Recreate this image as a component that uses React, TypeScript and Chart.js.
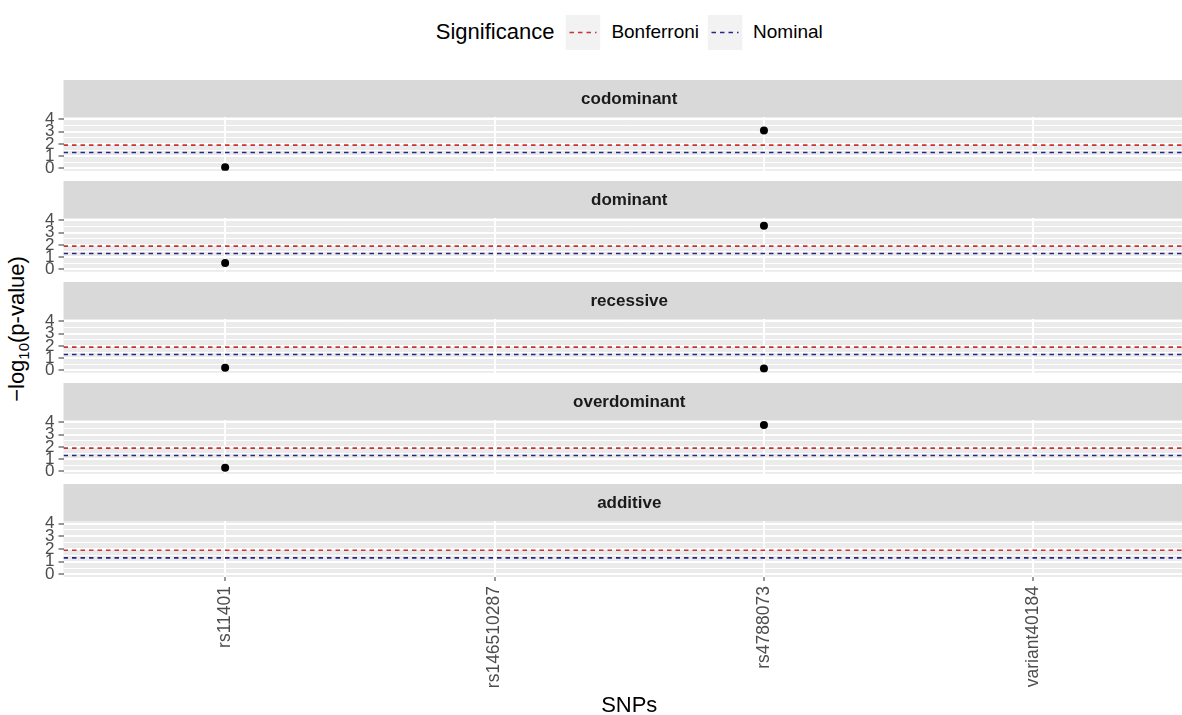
import React, { useEffect, useRef } from "react";
import { Chart, registerables } from "chart.js";

Chart.register(...registerables);

// ---- data ----
const snps = ["rs11401", "rs146510287", "rs4788073", "variant40184"];
const models = ["codominant", "dominant", "recessive", "overdominant", "additive"];

// -log10(p-value) per SNP for each genetic model (null = not tested)
const codominantP: (number | null)[] = [0.1, null, 3.1, null];
const dominantP: (number | null)[] = [0.51, null, 3.56, null];
const recessiveP: (number | null)[] = [0.21, null, 0.15, null];
const overdominantP: (number | null)[] = [0.3, null, 3.8, null];
const additiveP: (number | null)[] = [null, null, null, null];
const modelValues = [codominantP, dominantP, recessiveP, overdominantP, additiveP];

const yTickValues = [0, 1, 2, 3, 4];
const bonferroniLevel = 1.903; // -log10(0.05 / 4)
const nominalLevel = 1.301; // -log10(0.05)

// ---- layout / style ----
const PAGE_W = 1182;
const PAGE_H = 715;
const CANVAS_W = 1220;
const AREA_LEFT = 63.5;
const AREA_RIGHT = 1195;
const STRIP_TOP0 = 79.5;
const BLOCK = 101.2;
const STRIP_H = 37;
const PANEL_H = 56;
const X_MIN = -0.6;
const X_MAX = 3.6;
const Y_MIN = -0.2;
const Y_MAX = 4.2;

const FONT = "'Liberation Sans', Arial, Helvetica, sans-serif";
const PANEL_BG = "#EBEBEB";
const STRIP_BG = "#D9D9D9";
const BONF_COLOR = "#c83333";
const NOM_COLOR = "#25258a";
const TICK_TEXT = "#4D4D4D";

const facetBackground = {
  id: "facetBackground",
  beforeDraw(chart: any, _args: any, opts: any) {
    const { ctx, chartArea } = chart;
    const { left, right, top, bottom } = chartArea;
    ctx.save();
    ctx.fillStyle = PANEL_BG;
    ctx.fillRect(left, top, right - left, bottom - top);
    ctx.fillStyle = STRIP_BG;
    ctx.fillRect(left, top - STRIP_H, right - left, STRIP_H);
    ctx.fillStyle = "#1A1A1A";
    ctx.font = `bold 17px ${FONT}`;
    ctx.textAlign = "center";
    ctx.textBaseline = "middle";
    ctx.fillText(opts.label, (left + right) / 2, top - STRIP_H / 2 + 1);
    ctx.restore();
  },
};

function Panel({ index }: { index: number }) {
  const ref = useRef<HTMLCanvasElement>(null);
  const isLast = index === models.length - 1;
  const top = STRIP_TOP0 + BLOCK * index;
  const height = Math.round(isLast ? PAGE_H - top : STRIP_H + PANEL_H + 12);

  useEffect(() => {
    if (!ref.current) return;
    const values = modelValues[index];
    const points = values
      .map((v, i) => (v === null ? null : { x: i, y: v }))
      .filter((p) => p !== null) as { x: number; y: number }[];

    const minorAndMajor: number[] = [];
    for (let v = yTickValues[0]; v <= yTickValues[yTickValues.length - 1] + 1e-9; v += 0.5) {
      minorAndMajor.push(v);
    }
    const isMajor = (v: number) => yTickValues.includes(v);

    const chart = new Chart(ref.current, {
      type: "scatter",
      data: {
        datasets: [
          {
            type: "line",
            label: "Bonferroni",
            data: [
              { x: X_MIN, y: bonferroniLevel },
              { x: X_MAX, y: bonferroniLevel },
            ],
            borderColor: BONF_COLOR,
            borderWidth: 1.6,
            borderDash: [4.5, 4],
            pointRadius: 0,
            order: 2,
          },
          {
            type: "line",
            label: "Nominal",
            data: [
              { x: X_MIN, y: nominalLevel },
              { x: X_MAX, y: nominalLevel },
            ],
            borderColor: NOM_COLOR,
            borderWidth: 1.6,
            borderDash: [4.5, 4],
            pointRadius: 0,
            order: 1,
          },
          {
            type: "scatter",
            label: models[index],
            data: points,
            backgroundColor: "#000000",
            borderWidth: 0,
            pointRadius: 4,
            order: 0,
          },
        ],
      } as any,
      options: {
        responsive: false,
        animation: false,
        events: [],
        layout: {
          padding: { top: STRIP_H, left: 0, right: CANVAS_W - AREA_RIGHT, bottom: isLast ? 0 : 12 },
        },
        plugins: {
          legend: { display: false },
          tooltip: { enabled: false },
          facetBackground: { label: models[index] },
        } as any,
        scales: {
          x: {
            type: "linear",
            min: X_MIN,
            max: X_MAX,
            afterBuildTicks: (s: any) => {
              s.ticks = snps.map((_, i) => ({ value: i }));
            },
            afterFit: (s: any) => {
              s.height = isLast ? height - STRIP_H - PANEL_H : 0;
            },
            border: { display: false },
            grid: {
              color: "#FFFFFF",
              lineWidth: 2,
              drawTicks: isLast,
              tickLength: 4,
              tickColor: "#333333",
              tickWidth: 1,
            },
            ticks: {
              display: isLast,
              autoSkip: false,
              maxRotation: 90,
              minRotation: 90,
              padding: 5,
              color: TICK_TEXT,
              font: { family: FONT, size: 17.5 },
              callback: (v: any) => snps[Number(v)] ?? "",
            },
            title: {
              display: isLast,
              text: "SNPs",
              color: "#000000",
              font: { family: FONT, size: 22, lineHeight: 1.0 },
              padding: { top: 0, bottom: -2 },
            },
          },
          y: {
            type: "linear",
            min: Y_MIN,
            max: Y_MAX,
            afterBuildTicks: (s: any) => {
              s.ticks = minorAndMajor.map((v) => ({ value: v }));
            },
            afterFit: (s: any) => {
              s.width = AREA_LEFT;
            },
            border: { display: false },
            grid: {
              color: "#FFFFFF",
              lineWidth: (c: any) => (isMajor(c.tick?.value) ? 2 : 1),
              drawTicks: true,
              tickLength: 5,
              tickColor: (c: any) => (isMajor(c.tick?.value) ? "#333333" : "rgba(0,0,0,0)"),
              tickWidth: 1,
            },
            ticks: {
              autoSkip: false,
              padding: 4,
              color: TICK_TEXT,
              font: { family: FONT, size: 17 },
              callback: (v: any) => (isMajor(Number(v)) ? String(v) : ""),
            },
          },
        },
      } as any,
      plugins: [facetBackground],
    });
    return () => chart.destroy();
  }, []);

  return (
    <canvas
      ref={ref}
      width={CANVAS_W}
      height={height}
      style={{ position: "absolute", left: 0, top, width: CANVAS_W, height }}
    />
  );
}

function LegendKey({ color }: { color: string }) {
  return (
    <svg width={35} height={35} style={{ display: "block" }}>
      <rect x={0} y={0} width={35} height={35} fill="#F2F2F2" />
      <line x1={4} y1={17.5} x2={31} y2={17.5} stroke={color} strokeWidth={1.5} strokeDasharray="4.5 4" />
    </svg>
  );
}

export default function App() {
  return (
    <div
      style={{
        position: "fixed",
        left: 0,
        top: 0,
        width: PAGE_W,
        height: PAGE_H,
        overflow: "hidden",
        background: "#FFFFFF",
        fontFamily: FONT,
      }}
    >
      {/* legend */}
      <div
        style={{
          position: "absolute",
          left: (AREA_LEFT + AREA_RIGHT) / 2,
          top: 14.5,
          transform: "translateX(-50%)",
          display: "flex",
          alignItems: "center",
          whiteSpace: "nowrap",
        }}
      >
        <span style={{ fontSize: 22, color: "#000", marginRight: 11 }}>Significance</span>
        <LegendKey color={BONF_COLOR} />
        <span style={{ fontSize: 19, color: "#000", marginLeft: 11, marginRight: 8 }}>Bonferroni</span>
        <LegendKey color={NOM_COLOR} />
        <span style={{ fontSize: 19, color: "#000", marginLeft: 11 }}>Nominal</span>
      </div>

      {/* shared y-axis title */}
      <div
        style={{
          position: "absolute",
          left: 18,
          top: 329,
          transform: "translate(-50%, -50%) rotate(-90deg)",
          fontSize: 22,
          color: "#000",
          whiteSpace: "nowrap",
          lineHeight: 1,
        }}
      >
        −log<span style={{ fontSize: 15, verticalAlign: "-5px" }}>10</span>(p-value)
      </div>

      {models.map((m, i) => (
        <Panel key={m} index={i} />
      ))}
    </div>
  );
}
